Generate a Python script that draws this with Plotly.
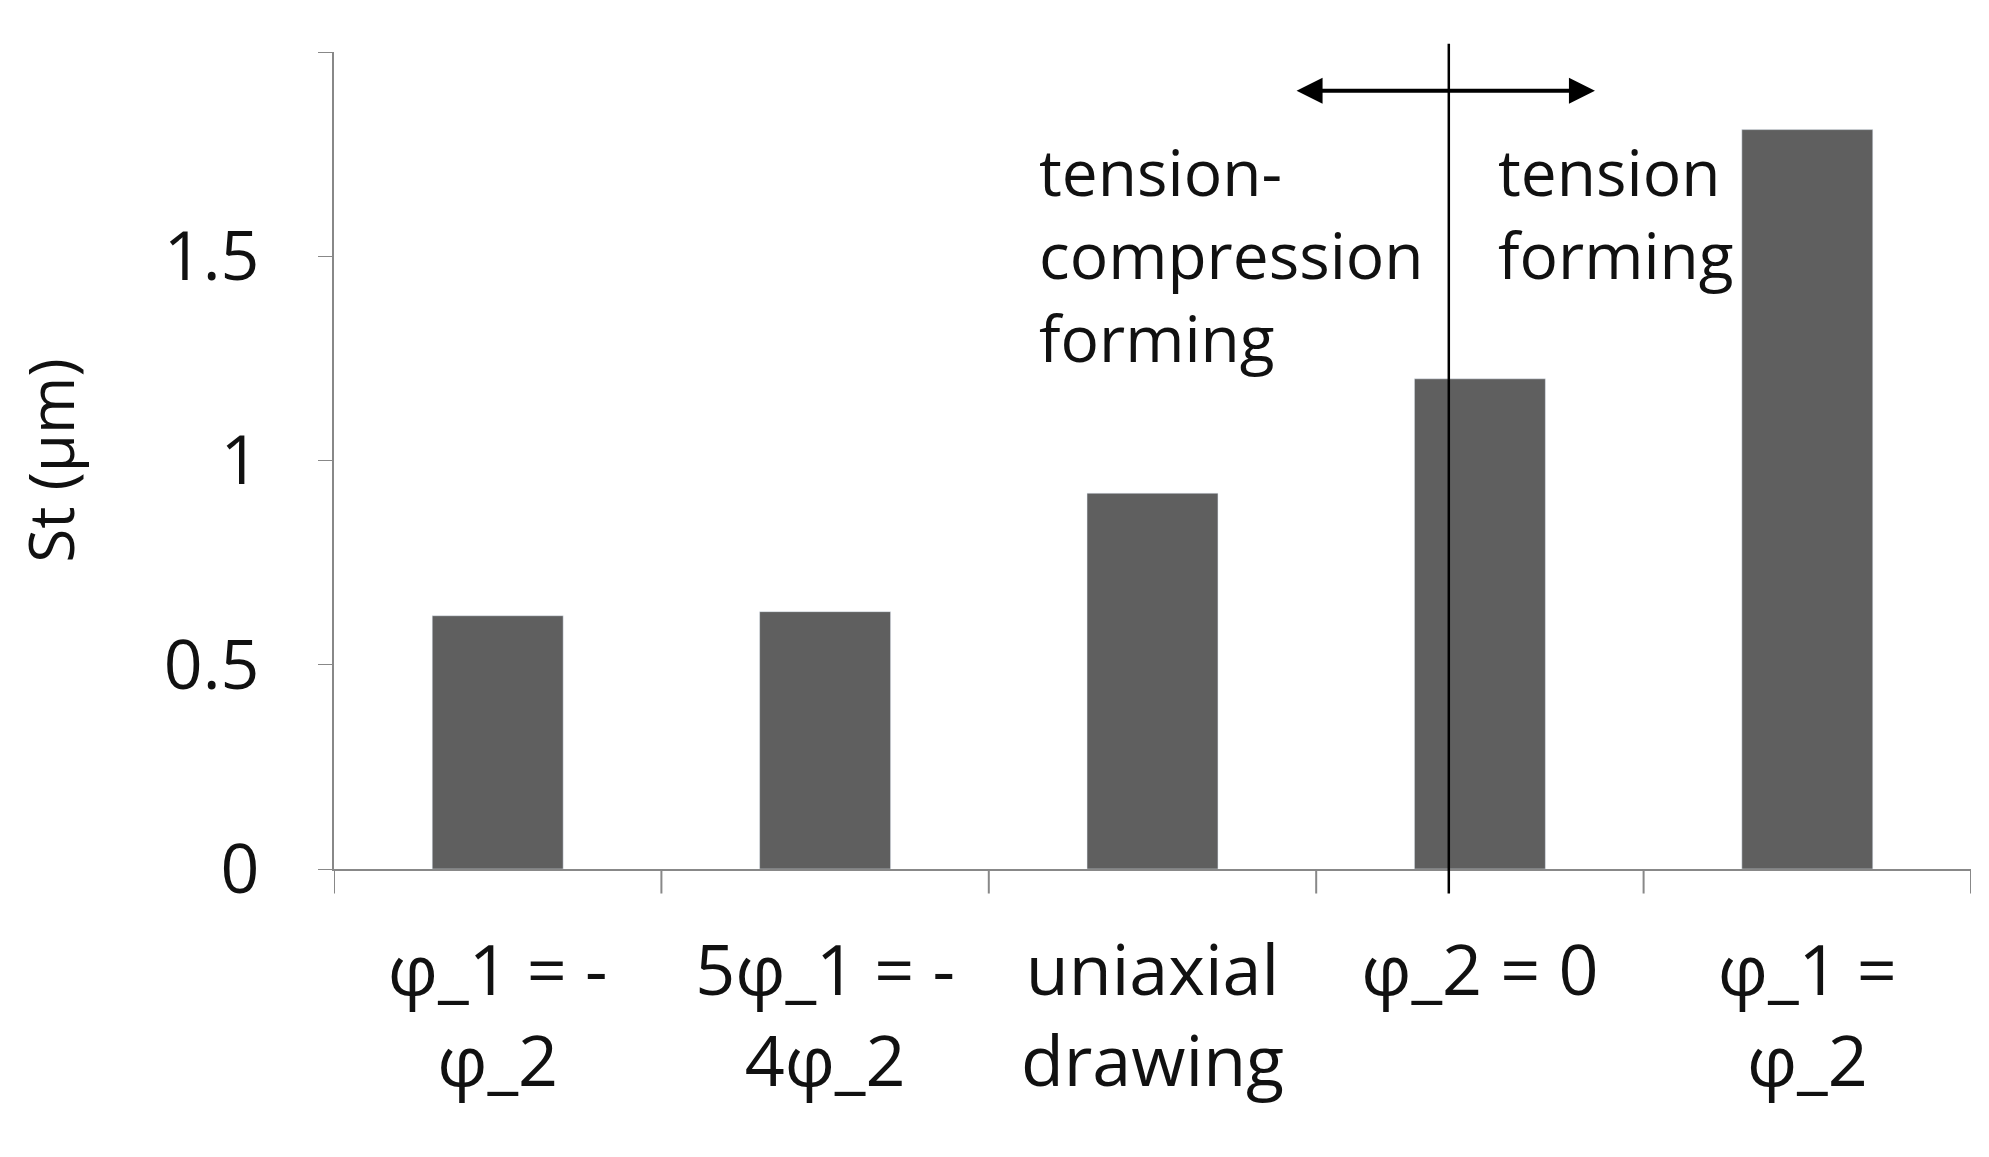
import plotly.graph_objects as go

categories = ["φ_1 = -<br>φ_2", "5φ_1 = -<br>4φ_2", "uniaxial<br>drawing", "φ_2 = 0", "φ_1 =<br>φ_2"]
values = [0.62, 0.63, 0.92, 1.20, 1.81]

F = "Liberation Sans Narrow, Open Sans, sans-serif"
fig = go.Figure(go.Bar(x=list(range(5)), y=values, marker_color="#5f5f5f", width=0.4))
fig.update_layout(
    width=1989, height=1157, plot_bgcolor="white", paper_bgcolor="white",
    margin=dict(l=326, r=26, t=44, b=296), showlegend=False,
    font=dict(family=F, size=66, color="#111"),
    bargap=0.6,
)
fig.update_xaxes(tickmode="array", tickvals=list(range(5)), ticktext=categories,
                 range=[-0.5, 4.5], showline=True, linecolor="#888", linewidth=2,
                 ticks="", showgrid=False, zeroline=False, ticklabelstandoff=40,
                 tickfont=dict(size=70))
fig.update_yaxes(range=[0, 2], tickvals=[0, 0.5, 1, 1.5, 2], ticktext=["0", "0.5", "1", "1.5", "2"],
                 showline=True, linecolor="#888", linewidth=2, ticks="outside", ticklen=14,
                 tickcolor="#888", showgrid=False, zeroline=False, ticklabelstandoff=45,
                 tickfont=dict(size=68),
                 title=dict(text="St (µm)", font=dict(size=62), standoff=70))
for b in [-0.5, 0.5, 1.5, 2.5, 3.5, 4.5]:
    fig.add_shape(type="line", xref="x", yref="paper", x0=b, x1=b, y0=0, y1=-0.03,
                  line=dict(color="#888", width=2))
fig.add_shape(type="line", xref="x", yref="paper", x0=2.905, x1=2.905, y0=1.01, y1=-0.03,
              line=dict(color="black", width=2.5))
fig.add_annotation(x=2.44, y=1.905, ax=3.356, ay=1.905, xref="x", yref="y", axref="x", ayref="y",
                   text="", showarrow=True, arrowhead=2, arrowside="end+start", arrowsize=1.3, arrowwidth=4,
                   arrowcolor="black")
fig.add_annotation(x=1.648, y=1.82, xref="x", yref="y", xanchor="left", yanchor="top", align="left",
                   text="tension-<br>compression<br>forming", showarrow=False, font=dict(size=64))
fig.add_annotation(x=3.05, y=1.82, xref="x", yref="y", xanchor="left", yanchor="top", align="left",
                   text="tension<br>forming", showarrow=False, font=dict(size=64))
fig.write_html("out.html")
